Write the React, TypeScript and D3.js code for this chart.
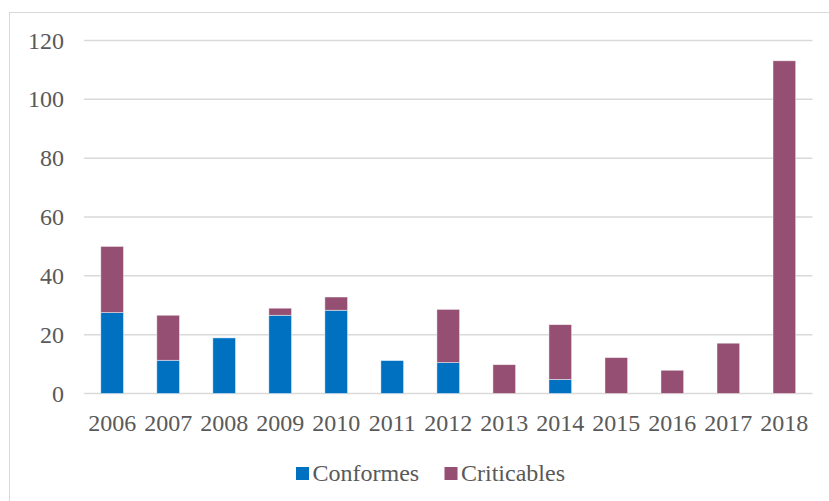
import React from "react";
import * as d3 from "d3";

const years = ["2006","2007","2008","2009","2010","2011","2012","2013","2014","2015","2016","2017","2018"];
const conformes = [27.5, 11.3, 18.9, 26.6, 28.3, 11.2, 10.5, 0, 4.8, 0, 0, 0, 0];
const criticables = [22.5, 15.3, 0, 2.4, 4.5, 0, 18.1, 9.8, 18.6, 12.2, 7.9, 17.1, 113.1];
const yTicks = [0, 20, 40, 60, 80, 100, 120];
const seriesNames = ["Conformes", "Criticables"];
const colors = ["#0070C0", "#954F72"];

const FONT = "Liberation Serif, Times New Roman, Times, serif";

export default function App() {
  const W = 829, H = 501;
  const left = 84, right = 812.5, top = 40.5, bottom = 393.5;
  const x = d3.scaleBand<string>().domain(years).range([left, right]).paddingInner(0.595).paddingOuter(0.3);
  const y = d3.scaleLinear().domain([0, 120]).range([bottom, top]);
  const data = years.map((yr, i) => ({ year: yr, Conformes: conformes[i], Criticables: criticables[i] }));
  const stack = d3.stack<any>().keys(seriesNames)(data);
  const ts = { fontFamily: FONT, fontSize: "24px", fill: "#595959" } as React.CSSProperties;
  return (
    <svg width={W} height={H} style={{ position: "absolute", left: 0, top: 0, fontFamily: FONT }}>
      <rect x={0} y={0} width={W} height={H} fill="#fff" />
      <rect x={9.5} y={12.5} width={W} height={H} fill="none" stroke="#D9D9D9" strokeWidth={1} />
      {yTicks.map(t => (
        <g key={t}>
          <line x1={left} x2={right} y1={y(t)} y2={y(t)} stroke="#D9D9D9" strokeWidth={1.5} />
          <text x={64} y={y(t) + 8} textAnchor="end" style={ts}>{t}</text>
        </g>
      ))}
      {stack.map((s, si) => (
        <g key={si}>
          {s.map((d, i) => (d[1] - d[0] > 0 ? (
            <rect key={i} x={x(years[i])!} width={x.bandwidth()} y={y(d[1])} height={y(d[0]) - y(d[1])}
              fill={colors[si]} stroke="#ffffff" strokeOpacity={0.6} strokeWidth={0.75} />
          ) : null))}
        </g>
      ))}
      {years.map(yr => (
        <text key={yr} x={x(yr)! + x.bandwidth() / 2} y={431} textAnchor="middle" style={ts}>{yr}</text>
      ))}
      <g>
        <rect x={296} y={467} width={13} height={13} fill={colors[0]} />
        <text x={312.5} y={481} style={ts}>{seriesNames[0]}</text>
        <rect x={444.5} y={467} width={13} height={13} fill={colors[1]} />
        <text x={461} y={481} style={ts}>{seriesNames[1]}</text>
      </g>
    </svg>
  );
}
